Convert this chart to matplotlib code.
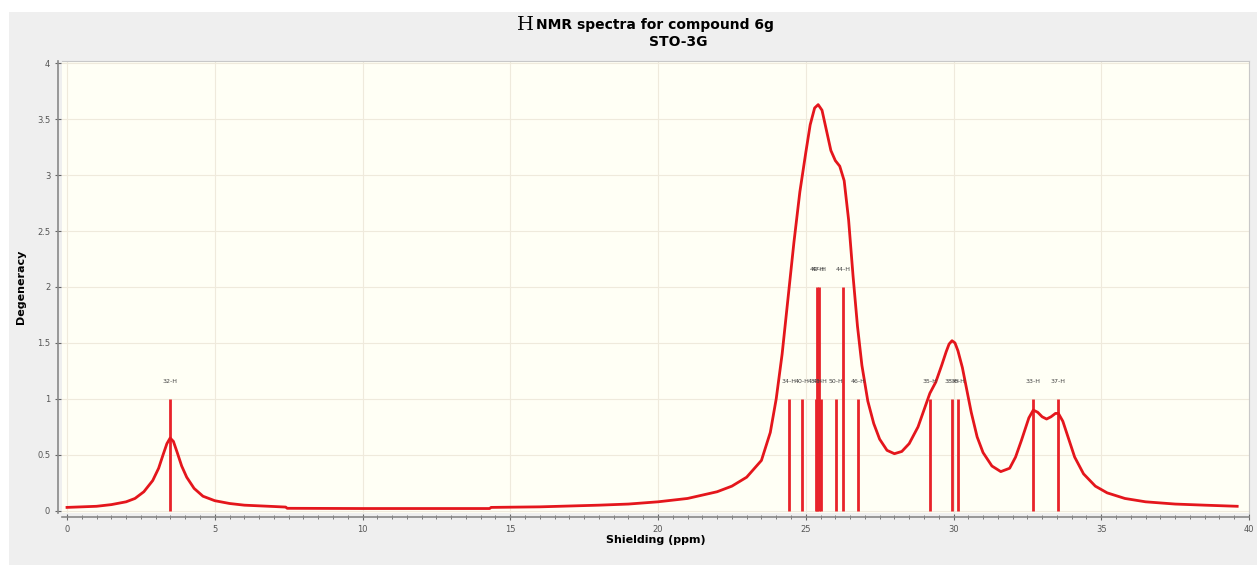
import matplotlib.pyplot as plt
from matplotlib.patches import Rectangle
from matplotlib.ticker import MultipleLocator, FormatStrFormatter

# sticks: shielding (ppm), degeneracy, label
stick_x = [3.49, 24.43, 24.87, 25.33, 25.37, 25.44, 25.50, 26.02, 26.26, 26.77,
           29.20, 29.95, 30.15, 32.69, 33.54]
stick_h = [1, 1, 1, 1, 2, 2, 1, 1, 2, 1, 1, 1, 1, 1, 1]
stick_lab = ['32-H', '34-H', '40-H', '48-H', '49-H', '47-H', '45-H', '50-H', '44-H', '46-H',
             '35-H', '38-H', '36-H', '33-H', '37-H']

# envelope
env_x = [0, 1, 1.5, 2, 2.3, 2.6, 2.9, 3.1, 3.25, 3.38, 3.49, 3.6, 3.73, 3.88, 4.05, 4.3, 4.6,
         5, 5.5, 6, 7, 7.4, 7.45, 10, 14.3, 14.35, 16, 18, 19, 20, 21, 22, 22.5, 23, 23.5,
         23.8, 24.0, 24.2, 24.4, 24.6, 24.8, 25.0, 25.15, 25.3, 25.42, 25.55, 25.7, 25.85,
         26.0, 26.15, 26.3, 26.45, 26.6, 26.75, 26.9, 27.1, 27.3, 27.5, 27.75, 28.0, 28.25,
         28.5, 28.8, 29.0, 29.2, 29.4, 29.6, 29.75, 29.85, 29.95, 30.05, 30.15, 30.3, 30.45,
         30.6, 30.8, 31.0, 31.3, 31.6, 31.9, 32.1, 32.3, 32.55, 32.7, 32.85, 33.0, 33.15,
         33.3, 33.45, 33.55, 33.7, 33.85, 34.1, 34.4, 34.8, 35.2, 35.8, 36.5, 37.5, 38.5, 39.6]
env_y = [0.03, 0.04, 0.055, 0.08, 0.11, 0.17, 0.27, 0.38, 0.5, 0.6, 0.65, 0.62, 0.52, 0.4,
         0.3, 0.2, 0.13, 0.09, 0.065, 0.05, 0.038, 0.033, 0.022, 0.02, 0.02, 0.03, 0.035,
         0.05, 0.06, 0.08, 0.11, 0.17, 0.22, 0.30, 0.45, 0.7, 1.0, 1.4, 1.9, 2.4, 2.85, 3.2,
         3.45, 3.6, 3.63, 3.58, 3.4, 3.22, 3.13, 3.08, 2.95, 2.6, 2.1, 1.65, 1.3, 0.98, 0.78,
         0.64, 0.54, 0.51, 0.53, 0.6, 0.75, 0.9, 1.05, 1.15, 1.3, 1.42, 1.49, 1.52, 1.5, 1.43,
         1.28, 1.08, 0.88, 0.66, 0.52, 0.4, 0.35, 0.38, 0.48, 0.63, 0.83, 0.9, 0.88, 0.84,
         0.82, 0.84, 0.87, 0.87, 0.8, 0.68, 0.48, 0.33, 0.22, 0.16, 0.11, 0.08, 0.06, 0.05,
         0.04]

W, H = 1257, 565
fig = plt.figure(figsize=(W / 100, H / 100), dpi=100, facecolor='white')
# grey panel with white strip top/left
fig.patches.append(Rectangle((9 / W, 0), 1, 1 - 12 / H, transform=fig.transFigure,
                             facecolor='#efefef', edgecolor='none', zorder=-10))

ax = fig.add_axes([62 / W, 1 - 513 / H, (1249 - 62) / W, (513 - 61) / H])
ax.set_facecolor('#fffff5')
ax.set_xlim(-0.17, 40.0)
ax.set_ylim(-0.02, 4.02)

ax.grid(True, color='#efeadc', linewidth=0.8)
ax.xaxis.set_major_locator(MultipleLocator(5))
ax.xaxis.set_minor_locator(MultipleLocator(0.5))
ax.yaxis.set_major_locator(MultipleLocator(0.5))
ax.yaxis.set_major_formatter(FormatStrFormatter('%g'))
ax.tick_params(axis='both', which='major', labelsize=6, labelcolor='#555555',
               color='#666666', length=4, direction='inout', width=0.8)
ax.tick_params(axis='x', which='minor', color='#666666', length=3, direction='inout')

for s in ['top', 'right']:
    ax.spines[s].set_color('#c8c8c8')
for s in ['left', 'bottom']:
    ax.spines[s].set_color('#888888')
    ax.spines[s].set_linewidth(1.2)
    ax.spines[s].set_position(('outward', 3))

ax.vlines(stick_x, 0, stick_h, color='#e8232a', linewidth=2, zorder=3)
ax.plot(env_x, env_y, color='#e4161c', linewidth=2, zorder=4, solid_joinstyle='round')

for x, h, lab in zip(stick_x, stick_h, stick_lab):
    ax.text(x, h + 0.13, lab, fontsize=4.5, color='#444444', ha='center', va='bottom', zorder=5)

ax.set_xlabel('Shielding (ppm)', fontsize=8, fontweight='bold', labelpad=1)
ax.set_ylabel('Degeneracy', fontsize=8, fontweight='bold', labelpad=8)

fig.text(534 / W, 1 - 25 / H, 'H', family='DejaVu Serif', fontsize=14, ha='right', va='center')
fig.text(536 / W, 1 - 25 / H, 'NMR spectra for compound 6g', fontsize=10, fontweight='bold',
         ha='left', va='center')
fig.text(678 / W, 1 - 42 / H, 'STO-3G', fontsize=10, fontweight='bold', ha='center', va='center')

fig.savefig('out.png', dpi=100, facecolor=fig.get_facecolor())
